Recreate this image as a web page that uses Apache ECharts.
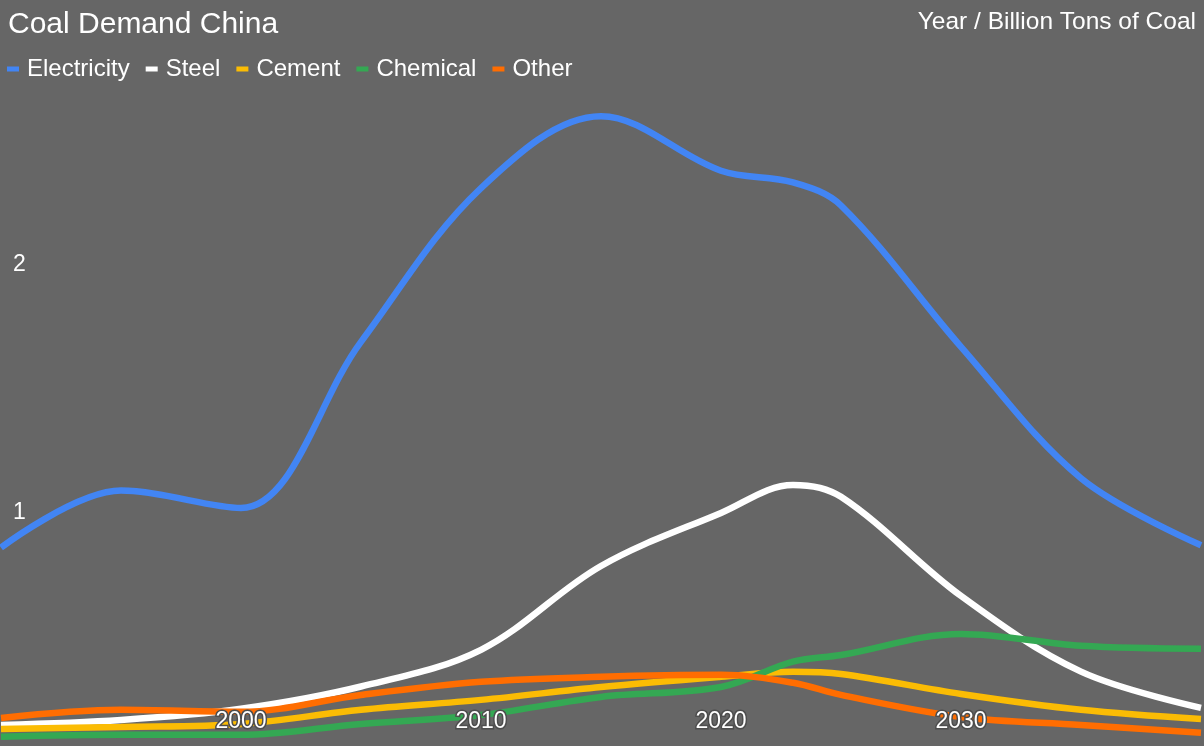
<!DOCTYPE html>
<html>
<head>
<meta charset="utf-8">
<script src="https://cdn.jsdelivr.net/npm/echarts@6/dist/echarts.min.js"></script>
<style>
html,body{margin:0;padding:0;background:#666666;}
#c{width:1204px;height:746px;}
</style>
</head>
<body>
<div id="c"></div>
<script>
const years = [1990, 1995, 2000, 2005, 2010, 2015, 2020, 2023, 2025, 2030, 2035, 2040];
const electricity = [0.86, 1.09, 1.02, 1.69, 2.31, 2.60, 2.38, 2.333, 2.24, 1.67, 1.14, 0.87];
const steel = [0.145, 0.165, 0.21, 0.30, 0.448, 0.786, 1.0, 1.113, 1.065, 0.665, 0.36, 0.214];
const cement = [0.129, 0.137, 0.149, 0.206, 0.246, 0.298, 0.339, 0.359, 0.35, 0.27, 0.206, 0.169];
const chemical = [0.097, 0.105, 0.105, 0.149, 0.185, 0.258, 0.298, 0.40, 0.427, 0.512, 0.464, 0.452];
const other = [0.173, 0.206, 0.198, 0.266, 0.319, 0.339, 0.347, 0.315, 0.266, 0.177, 0.145, 0.113];
const seriesNames = ['Electricity', 'Steel', 'Cement', 'Chemical', 'Other'];
const seriesColors = ['#4285F4', '#FFFFFF', '#FBBC04', '#34A853', '#FF6D01'];
const xTickLabels = [2000, 2010, 2020, 2030];
const yTickLabels = [1, 2];

const FONT = '"Liberation Sans", Arial, sans-serif';
const values = [electricity, steel, cement, chemical, other];

const chart = echarts.init(document.getElementById('c'), null, {renderer: 'canvas'});
chart.setOption({
  animation: false,
  backgroundColor: '#666666',
  title: [
    {text: 'Coal Demand China', left: 3, top: 5,
     textStyle: {color: '#ffffff', fontSize: 30, fontWeight: 'normal', fontFamily: FONT}},
    {text: 'Year / Billion Tons of Coal', right: 3, top: 5,
     textStyle: {color: '#ffffff', fontSize: 24.5, fontWeight: 'normal', fontFamily: FONT}}
  ],
  legend: {
    left: 7, top: 57, padding: 0,
    icon: 'rect', itemWidth: 12, itemHeight: 5, itemGap: 16,
    textStyle: {color: '#ffffff', fontSize: 24, fontFamily: FONT, padding: [0, 0, 0, 3]},
    data: seriesNames
  },
  grid: {left: 1, right: 3, top: 91.4, bottom: 0, containLabel: false},
  xAxis: {
    type: 'value', min: 1990, max: 2040, interval: 10, z: 10,
    axisLine: {show: false}, axisTick: {show: false}, splitLine: {show: false},
    axisLabel: {
      inside: true, margin: 13, color: '#ffffff', fontSize: 23, fontFamily: FONT,
      textBorderColor: '#4d4d4d', textBorderWidth: 3,
      showMinLabel: false, showMaxLabel: false,
      formatter: v => xTickLabels.includes(v) ? String(v) : ''
    }
  },
  yAxis: {
    type: 'value', min: 0.06, max: 2.7, splitNumber: 3, z: 10,
    axisLine: {show: false}, axisTick: {show: false}, splitLine: {show: false},
    axisLabel: {
      inside: true, margin: 12, color: '#ffffff', fontSize: 23, fontFamily: FONT,
      padding: [6, 0, 0, 0],
      showMinLabel: false, showMaxLabel: false,
      formatter: v => yTickLabels.some(t => Math.abs(t - v) < 1e-9) ? String(Math.round(v)) : ''
    }
  },
  series: seriesNames.map((name, i) => ({
    name: name, type: 'line', smooth: 0.35, showSymbol: false,
    color: seriesColors[i],
    lineStyle: {width: 6.5, color: seriesColors[i]},
    data: years.map((y, j) => [y, values[i][j]])
  }))
});
</script>
</body>
</html>
